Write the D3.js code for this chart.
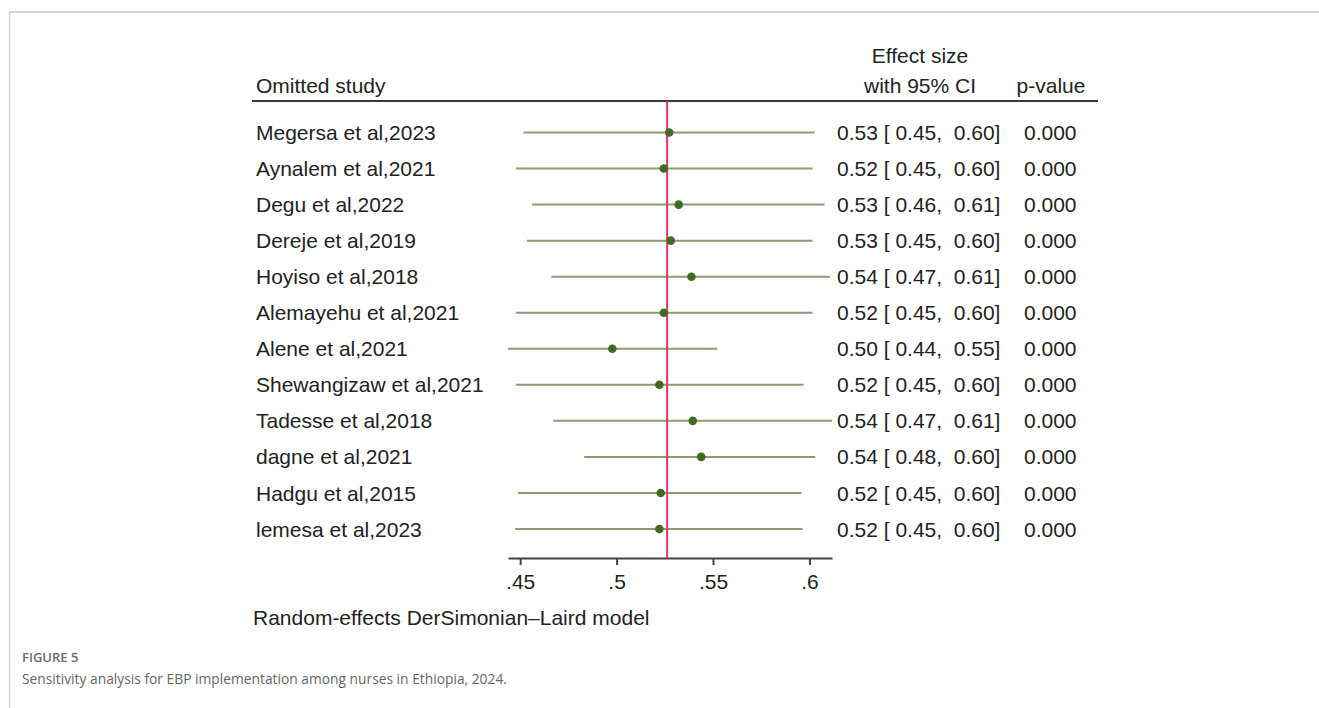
<!DOCTYPE html>
<html>
<head>
<meta charset="utf-8">
<script src="https://cdn.jsdelivr.net/npm/d3@7"></script>
<style>
  html, body { margin: 0; padding: 0; background: #fff; }
  svg { display: block; }
  .t { font-family: "Liberation Sans", Arial, sans-serif; fill: #222; }
</style>
</head>
<body>
<svg id="chart" width="1319" height="708"></svg>
<script>
// ---- data ----
const studies = [
  "Megersa et al,2023", "Aynalem et al,2021", "Degu et al,2022", "Dereje et al,2019",
  "Hoyiso et al,2018", "Alemayehu et al,2021", "Alene et al,2021", "Shewangizaw et al,2021",
  "Tadesse et al,2018", "dagne et al,2021", "Hadgu et al,2015", "lemesa et al,2023"
];
const estimates = [0.5273, 0.5245, 0.5322, 0.5281, 0.5388, 0.5245, 0.4978, 0.5222, 0.5395, 0.5439, 0.5229, 0.5222];
const lowerCI   = [0.4517, 0.4478, 0.4562, 0.4535, 0.4662, 0.4478, 0.4437, 0.4478, 0.4671, 0.4832, 0.4489, 0.4474];
const upperCI   = [0.6027, 0.6016, 0.6078, 0.6016, 0.6106, 0.6016, 0.5522, 0.5970, 0.6117, 0.6030, 0.5959, 0.5964];
const pValues   = ["0.000","0.000","0.000","0.000","0.000","0.000","0.000","0.000","0.000","0.000","0.000","0.000"];
const overallEstimate = 0.5262;
const tickValues = [0.45, 0.50, 0.55, 0.60];
const tickLabels = [".45", ".5", ".55", ".6"];

const svg = d3.select("#chart");

// page frame
svg.append("line").attr("x1", 9.5).attr("x2", 1319).attr("y1", 12).attr("y2", 12)
  .attr("stroke", "#d6d6d6").attr("stroke-width", 2);
svg.append("line").attr("x1", 9.5).attr("x2", 9.5).attr("y1", 12).attr("y2", 708)
  .attr("stroke", "#d6d6d6").attr("stroke-width", 1.5);

// scales
const x = d3.scaleLinear()
  .domain([d3.min(lowerCI), d3.max(upperCI)])
  .range([508, 832]);
const y = d3.scalePoint().domain(studies).range([132.5, 529]);

const FS = 21;

// header
svg.append("text").attr("class", "t").attr("x", 256).attr("y", 93)
  .attr("font-size", FS).text("Omitted study");
svg.append("text").attr("class", "t").attr("x", 920).attr("y", 63)
  .attr("font-size", FS).attr("text-anchor", "middle").text("Effect size");
svg.append("text").attr("class", "t").attr("x", 920).attr("y", 93)
  .attr("font-size", FS).attr("text-anchor", "middle").text("with 95% CI");
svg.append("text").attr("class", "t").attr("x", 1051).attr("y", 93)
  .attr("font-size", FS).attr("text-anchor", "middle").text("p-value");
svg.append("line").attr("x1", 252).attr("x2", 1098).attr("y1", 101).attr("y2", 101)
  .attr("stroke", "#3a3a3a").attr("stroke-width", 2);

// axis
const axisY = 558;
const axis = d3.axisBottom(x).tickValues(tickValues)
  .tickFormat((d, i) => tickLabels[i]).tickSizeOuter(0).tickSizeInner(7).tickPadding(9);
const gAxis = svg.append("g").attr("transform", `translate(0,${axisY})`).call(axis);
gAxis.select(".domain").attr("stroke", "#444").attr("stroke-width", 2);
gAxis.selectAll(".tick line").attr("stroke", "#444").attr("stroke-width", 2);
gAxis.selectAll(".tick text").attr("font-family", "Liberation Sans, Arial, sans-serif")
  .attr("font-size", FS).attr("fill", "#222");

// rows
const rows = studies.map((s, i) => ({ s, est: estimates[i], lo: lowerCI[i], hi: upperCI[i], p: pValues[i] }));

svg.append("g").selectAll("line").data(rows).join("line")
  .attr("x1", d => x(d.lo)).attr("x2", d => x(d.hi))
  .attr("y1", d => y(d.s)).attr("y2", d => y(d.s))
  .attr("stroke", "#8a9d74").attr("stroke-width", 2);

// overall line
svg.append("line").attr("x1", x(overallEstimate)).attr("x2", x(overallEstimate))
  .attr("y1", 101).attr("y2", axisY)
  .attr("stroke", "#e8336f").attr("stroke-width", 2);

svg.append("g").selectAll("circle").data(rows).join("circle")
  .attr("cx", d => x(d.est)).attr("cy", d => y(d.s)).attr("r", 4.3)
  .attr("fill", "#3f6b22");

const f2 = d3.format(".2f");
const rowText = svg.append("g");
rowText.selectAll("text.lab").data(rows).join("text").attr("class", "t lab")
  .attr("x", 256).attr("y", d => y(d.s)).attr("dy", "0.36em")
  .attr("font-size", FS).text(d => d.s);
rowText.selectAll("text.es").data(rows).join("text").attr("class", "t es")
  .attr("x", 837).attr("y", d => y(d.s)).attr("dy", "0.36em")
  .attr("font-size", FS).style("white-space", "pre")
  .text(d => `${f2(d.est)} [ ${f2(d.lo)},  ${f2(d.hi)}]`);
rowText.selectAll("text.pv").data(rows).join("text").attr("class", "t pv")
  .attr("x", 1024).attr("y", d => y(d.s)).attr("dy", "0.36em")
  .attr("font-size", FS).text(d => d.p);

// model note
svg.append("text").attr("class", "t").attr("x", 253).attr("y", 625)
  .attr("font-size", FS).text("Random-effects DerSimonian\u2013Laird model");

// caption
svg.append("text").attr("x", 22).attr("y", 662)
  .attr("font-family", "Open Sans, Noto Sans, sans-serif").attr("font-size", 13)
  .attr("font-weight", 600).attr("fill", "#6b6b6b").text("FIGURE 5");
svg.append("text").attr("x", 22).attr("y", 684)
  .attr("font-family", "Open Sans, Noto Sans, sans-serif").attr("font-size", 13.8)
  .attr("fill", "#666").text("Sensitivity analysis for EBP implementation among nurses in Ethiopia, 2024.");
</script>
</body>
</html>
